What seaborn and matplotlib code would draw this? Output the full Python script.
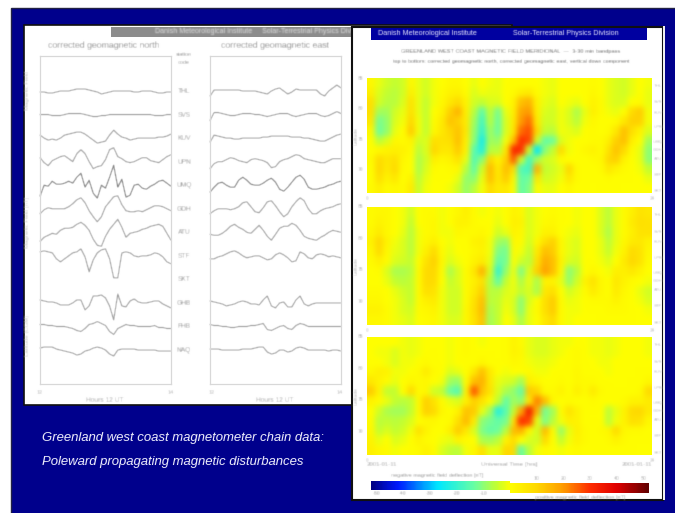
import numpy as np
import pandas as pd
import matplotlib
matplotlib.use("Agg")
import matplotlib.pyplot as plt
from matplotlib.colors import LinearSegmentedColormap
from matplotlib.patches import Rectangle
import seaborn as sns

sns.set_theme(style="white")
plt.rcParams['font.family'] = ['Liberation Sans', 'DejaVu Sans']

W, H = 675, 513
SLIDE_BLUE = "#00008c"

STATIONS = ["THL", "SVS", "KUV", "UPN", "UMQ", "GDH", "ATU", "STF", "SKT", "GHB", "FHB", "NAQ"]

# deflections of each station trace, north component
north = {
 "THL": [-1,-1,-2,-2,-1,0,0,0,1,2,2,2,1,0,-1,-3,-2,-1,0,0,0,0,0,-1,-1,0,0,0,-1,-2,-2,-1,-1],
 "SVS": [0,0,0,-1,-1,-1,0,1,1,1,1,0,-1,-2,-2,-1,-1,0,0,0,0,0,0,0,0,0,0,0,-1,-1,-1,0,0],
 "KUV": [3,0,-2,-1,-2,0,3,4,5,6,6,4,1,-2,-5,-4,-3,3,8,4,1,0,-2,-1,0,0,0,0,0,1,1,2,4],
 "UPN": [4,-1,-4,1,3,5,6,3,0,8,12,8,0,-7,-5,-4,2,12,14,5,3,0,-1,0,2,4,4,1,0,-1,2,5,7],
 "UMQ": [-11,0,-1,4,1,1,2,4,2,8,12,-2,5,-8,-13,0,-3,8,20,-2,6,-12,-10,0,1,-3,-4,-1,1,4,5,2,-1],
 "GDH": [-5,-1,1,0,0,0,0,2,5,9,11,6,-2,-8,-13,-8,2,7,12,13,4,-2,-3,-3,-2,-3,-1,1,3,3,2,0,-2],
 "ATU": [-9,-5,-3,-1,-2,2,4,4,5,8,10,7,2,-7,-13,-14,-4,3,8,13,5,-5,-1,0,1,3,4,6,7,8,6,-1,-8],
 "STF": [4,5,4,3,-3,-6,-3,0,3,4,7,-1,-16,-4,3,6,7,-3,-22,-22,3,4,3,0,-1,0,0,1,3,2,-1,-6,-8],
 "GHB": [3,2,1,1,0,-2,-2,-2,0,3,3,-7,-3,7,7,8,5,-3,-17,9,-3,-4,2,4,1,0,0,1,2,2,-1,-3,-5],
 "FHB": [2,2,1,1,0,0,0,-1,-2,-4,-5,-2,2,3,5,3,1,-5,-8,-2,0,2,1,1,0,0,0,0,1,-1,-1,-2,-2],
 "NAQ": [2,3,3,3,1,0,-1,-2,-3,-5,-4,-1,0,2,3,2,0,-4,-6,0,1,1,1,1,0,0,0,0,0,-1,-1,-1,-1],
}
# deflections of each station trace, east component
east = {
 "THL": [-5,1,1,1,1,1,1,1,0,0,0,0,-1,-2,-3,0,2,3,0,-3,-1,2,1,1,1,1,1,-3,-5,0,3,6,3],
 "SVS": [-6,2,2,1,0,-1,-1,0,1,1,1,0,0,-1,-2,-1,0,1,1,1,-1,-2,-1,0,1,1,1,-1,-2,-1,1,3,1],
 "KUV": [-4,3,2,1,0,0,-1,-1,0,0,0,0,0,1,1,2,2,2,2,2,1,1,1,0,0,-1,-2,-3,-3,-1,1,3,4],
 "UPN": [-7,-2,0,0,2,4,3,1,0,-1,2,3,2,1,-1,-6,-5,0,2,3,5,7,6,3,2,1,0,-1,-1,1,3,3,3],
 "UMQ": [-7,-2,2,3,0,-2,-2,5,8,5,1,0,0,2,5,7,3,-4,-6,-2,3,8,10,6,-2,-4,-4,-3,-2,0,1,3,4],
 "GDH": [-5,-2,0,0,0,-1,0,2,6,7,2,-3,-4,1,7,8,3,-3,-8,-5,2,7,11,8,0,-5,-5,-2,0,1,2,4,5],
 "ATU": [-2,-3,-3,-1,2,6,8,5,3,0,-1,3,7,2,-4,-8,-2,4,6,6,9,7,2,-4,-6,-7,-8,-5,-3,0,2,1,0],
 "STF": [-3,-3,-1,0,2,4,5,3,0,-2,-1,0,0,-2,-4,-3,1,3,1,-2,-6,-5,4,2,-2,-3,1,2,1,-1,0,-1,-2],
 "GHB": [2,1,0,-1,-3,-2,-1,1,2,1,-1,-1,-2,3,7,-3,-5,0,1,-4,-4,3,7,-1,-3,-1,0,0,0,0,0,0,0],
 "FHB": [2,1,1,0,0,-1,-1,0,0,0,1,1,2,3,-3,-4,-2,0,1,-2,-3,1,3,2,0,0,0,0,0,0,0,0,0],
 "NAQ": [1,1,1,0,0,0,0,0,1,1,1,2,3,3,-2,-4,-3,0,0,-2,-1,2,3,2,0,0,0,0,0,-1,0,0,-1],
}

# latitude/time field, geomagnetic north
field_north = [
 [2,-2,-4,-5,-4,2,-2,-4,-1,0,2,2,0,-2,0,-1,-2,0,0,0,0,0,-1,-2,0,0,0,0,1,0,-2,-3,-4,-2,0,-1],
 [4,-3,-5,-6,-4,4,-2,-4,-1,1,3,4,1,-3,-1,-2,-2,0,1,4,5,1,-1,-2,0,0,0,0,2,0,-2,-3,-4,-2,0,-2],
 [8,-4,-6,-6,-3,7,-2,-5,-1,2,6,9,3,-4,-5,-3,-3,0,3,14,16,3,-2,-3,0,-1,-2,0,3,1,-2,-3,-3,0,1,-2],
 [8,-8,-8,-4,-2,8,-2,-5,0,3,11,16,4,-6,-15,-5,-12,-2,4,18,20,4,-3,-4,-1,-3,-7,-2,4,1,-1,-2,0,9,12,-1],
 [6,-12,-9,-3,-1,10,-1,-5,1,5,13,11,5,-8,-18,-6,-13,-3,5,20,24,5,-4,-4,-1,-3,-6,-1,2,0,0,1,6,11,11,-1],
 [2,-13,-9,-2,0,12,-1,-5,2,6,10,13,6,-9,-20,-8,-13,-3,6,24,27,9,-5,-6,-1,-2,-3,0,1,0,1,6,14,8,3,-3],
 [0,-6,-3,2,1,3,-4,-3,8,7,8,14,4,-10,-24,-8,-9,-1,14,30,28,-4,-14,-13,-3,-1,0,0,1,1,4,11,14,4,0,-8],
 [0,2,3,4,3,1,-6,-3,10,6,6,12,3,-15,-22,-6,-6,6,32,30,-4,-27,-10,-5,9,-1,0,2,3,1,7,13,9,1,-2,-10],
 [1,9,6,8,2,0,-7,-4,4,2,3,7,-2,-16,-10,10,3,11,26,-4,-18,-8,-4,-3,1,0,0,0,1,2,10,11,3,0,-2,-10],
 [0,10,5,9,1,0,-7,-3,1,0,1,2,-6,-14,-4,15,5,14,8,-16,-18,16,-5,-4,-2,10,1,0,0,1,6,3,1,0,-1,-5],
 [0,8,3,6,0,3,-6,-2,0,0,0,-2,-9,-10,-2,14,6,12,2,-14,-13,6,-4,-3,-1,6,1,0,0,0,1,0,0,0,0,-2],
 [1,4,1,2,1,5,-5,-1,0,0,-1,-4,-9,-6,-1,9,5,6,1,-14,-11,1,-2,-2,0,2,0,0,0,0,0,0,0,0,0,0],
]
# latitude/time field, geomagnetic east
field_east = [
 [1,2,2,0,-1,-4,0,1,1,-1,0,2,4,1,-1,0,-1,0,3,2,-3,-1,0,1,0,0,-1,0,0,-3,-6,-2,1,4,7,6],
 [1,3,2,0,-1,-5,0,1,2,-1,0,3,3,1,0,0,-2,0,4,3,-3,-1,1,2,0,0,-1,0,0,-3,-6,-2,1,5,8,7],
 [2,5,2,0,-2,-6,-1,1,2,-1,-1,2,1,1,2,0,-4,-2,3,2,-3,-1,3,3,0,-1,-2,0,0,-3,-7,-2,1,4,7,7],
 [3,10,3,-1,-3,-6,-1,2,4,0,-1,0,0,3,4,-1,-8,-9,2,1,-4,2,8,11,2,-2,-3,0,0,-2,-6,-2,2,5,6,3],
 [2,9,2,-2,-3,-6,-1,4,9,1,-2,0,0,2,3,-1,-11,-12,1,-1,-5,5,14,12,2,-2,-3,0,0,-2,-5,-1,3,9,7,2],
 [1,4,1,-3,-4,-5,0,7,11,2,-3,-1,0,3,5,-2,-14,-12,0,-4,-6,8,17,14,3,-3,-4,0,0,-1,-3,0,5,10,7,1],
 [0,1,-3,-7,-7,-6,1,9,10,1,-7,-3,1,6,16,-3,-20,-9,-1,-11,-3,11,19,14,2,-10,-6,0,2,0,-1,4,4,6,3,0],
 [0,0,-2,-5,-6,-5,1,9,9,0,-5,-3,1,4,8,-6,-14,-5,-1,-7,-2,-7,3,3,-2,-9,-4,3,7,2,0,6,3,1,0,-1],
 [1,1,0,-2,-4,-5,1,8,7,-1,-4,-4,1,5,11,-6,-6,-3,-2,-5,-3,-7,6,8,0,-4,-2,1,5,2,0,5,2,0,-2,-4],
 [2,2,0,-1,-3,-5,1,4,5,-1,-4,-4,1,7,14,-6,-5,-2,-3,-10,-3,0,8,12,1,-2,-1,0,1,1,1,3,1,0,-1,-3],
 [3,3,1,-1,-3,-4,1,2,3,-1,-4,-4,2,8,15,-7,-5,-1,-3,-10,-2,1,8,12,1,-1,-1,0,0,0,1,1,1,0,0,-1],
 [2,2,1,-1,-2,-3,0,1,2,-1,-3,-3,2,7,13,-8,-5,0,-2,-7,-2,0,6,9,1,-1,0,0,0,0,0,0,0,0,0,0],
]
# latitude/time field, vertical down
field_down = [
 [0,0,0,0,-1,-2,-1,0,0,0,-1,0,1,0,-1,0,0,0,3,1,-2,-3,-3,-2,-1,-1,0,0,-1,-1,-2,-1,0,0,0,-1],
 [0,-1,-1,-3,-1,-2,-1,0,0,0,-1,0,1,0,0,0,0,0,3,2,-2,-3,-3,-2,-1,0,1,0,-1,-1,-2,-1,0,0,0,-1],
 [0,0,-1,-3,-1,-1,0,1,0,0,-1,0,0,0,2,0,0,0,2,1,-1,-2,-2,-1,0,0,1,0,0,-1,-1,0,0,0,0,0],
 [2,4,3,-1,-1,0,1,5,1,0,-3,-2,0,6,14,5,0,-1,0,0,1,-1,-1,0,0,0,2,0,0,0,-1,0,0,0,0,0],
 [6,3,1,-2,0,2,1,2,0,-1,-8,-9,1,14,16,6,-2,-3,-4,-8,4,2,0,0,1,0,2,1,1,0,0,0,0,0,0,2],
 [12,3,-5,-5,0,9,1,2,-4,-5,-13,-16,3,26,13,7,-3,-7,-9,-14,12,10,1,1,3,0,4,1,5,1,0,0,0,0,1,9],
 [3,1,-2,-5,-6,-5,1,11,7,1,-2,-3,4,11,7,1,-5,-14,-8,-10,6,22,14,2,0,1,0,0,1,0,0,0,1,3,3,5],
 [0,-4,-7,-8,-8,-5,1,11,9,2,0,3,13,12,-2,-8,-22,-15,-5,18,34,16,-12,-8,1,7,3,0,0,0,-6,-2,3,9,10,5],
 [1,-6,-5,-6,-5,-3,0,2,2,0,1,8,15,5,-10,-12,-14,-12,6,30,28,-2,-11,-6,-1,4,3,0,0,0,-6,-1,3,8,7,2],
 [2,-5,-3,-5,-4,-1,8,3,0,0,4,12,6,-3,-11,-14,-13,-6,15,16,2,-4,15,1,-9,-2,4,1,0,1,2,9,2,1,1,0],
 [3,-2,0,-3,-2,0,3,1,0,-1,-2,3,1,0,-7,-8,-6,3,9,0,-3,-4,9,0,-5,-1,3,1,0,0,1,3,1,0,0,0],
 [4,2,1,-1,0,0,1,3,1,-3,-5,-6,-1,2,8,-2,-2,10,9,-14,-6,-1,1,0,-1,0,1,0,0,0,0,0,0,0,0,0],
]
neg_ticks = [-50, -40, -30, -20, -10]
pos_ticks = [10, 20, 30, 40, 50]
cmap_stops = [(-52, "#000080"), (-42, "#0018ff"), (-27, "#00e8ff"), (-13, "#6cffa0"),
              (-5, "#c4ff30"), (0, "#ffff00"), (10, "#ffd800"), (20, "#ff9c00"),
              (30, "#ff2c00"), (40, "#e00000"), (52, "#600000")]
VMIN, VMAX = -52, 52
cmap = LinearSegmentedColormap.from_list(
    "field", [((v - VMIN) / (VMAX - VMIN), c) for v, c in cmap_stops], N=256)


# ---------- soft rendering filters (the reference is a blurred screenshot) ----------
def kernel(sigma):
    r = max(1, int(3 * sigma + 0.5))
    k = np.exp(-0.5 * (np.arange(-r, r + 1) / sigma) ** 2)
    return k / k.sum(), r


def conv(a, k, axis):
    r = len(k) // 2
    return sum(w * np.roll(a, i - r, axis=axis) for i, w in enumerate(k))


def smooth_mesh(sigma):
    def f(img, dpi):
        k, r = kernel(sigma)
        p = np.pad(img[..., :3], ((r, r), (r, r), (0, 0)), mode="edge")
        p = conv(conv(p, k, 0), k, 1)[r:-r, r:-r]
        out = img.copy()
        out[..., :3] = np.clip(p, 0, 1)
        return out, 0, 0
    return f


def soft(sigma):
    def f(img, dpi):
        k, r = kernel(sigma)
        p = np.ones((img.shape[0] + 2 * r, img.shape[1] + 2 * r, 4))
        p[..., 3] = 0
        p[r:-r, r:-r] = img
        p = conv(conv(p, k, 0), k, 1)
        return np.clip(p, 0, 1), -r, -r
    return f


fig = plt.figure(figsize=(W / 100, H / 100), dpi=100, facecolor="white")


def axes_px(x0, y0, x1, y1, z):
    return fig.add_axes([x0 / W, 1 - y1 / H, (x1 - x0) / W, (y1 - y0) / H], zorder=z)


def overlay(z):
    a = axes_px(0, 0, W, H, z)
    a.set_xlim(0, W)
    a.set_ylim(H, 0)
    a.axis("off")
    a.patch.set_alpha(0)
    return a


def label(a, x, y, s, size=4.6, color="#8a8a8a", ha="center", va="center", sigma=0.7, **kw):
    t = a.text(x, y, s, fontsize=size, color=color, ha=ha, va=va, **kw)
    t.set_agg_filter(soft(sigma))
    return t


# ---------- slide background ----------
bg = overlay(0)
bg.add_patch(Rectangle((11, 8), W, H, fc=SLIDE_BLUE, ec="#222244", lw=1))
bg.add_patch(Rectangle((24, 25), 488, 380, fc="white", ec="#101010", lw=1.2))
bg.add_patch(Rectangle((111, 26.5), 401, 10, fc="#8c8c8c", ec="none"))
label(bg, 155, 31.5, "Danish Meteorological Institute     Solar-Terrestrial Physics Division",
      size=5.0, color="#e0e0e0", ha="left")
label(bg, 104, 45, "corrected geomagnetic north", size=6.3, color="#8a8a8a")
label(bg, 275, 45, "corrected geomagnetic east", size=6.3, color="#8a8a8a")
label(bg, 184, 54, "station", size=4)
label(bg, 184, 62, "code", size=4)
label(bg, 28, 90, "Magnetic Field", size=4.3, rotation=90, color="#b8b8b8")
label(bg, 28, 222, "Magnetic Field [nT]", size=4.3, rotation=90, color="#b8b8b8")
label(bg, 28, 335, "Latitude (CGM)", size=4.3, rotation=90, color="#b8b8b8")
for i, s in enumerate(STATIONS):
    label(bg, 184, 91.5 + 23.55 * i, s, size=4.8, color="#909090")
for x, s in [(40, "12"), (171, "14"), (212, "12"), (340, "14")]:
    label(bg, x, 393, s, size=4, color="#a8a8a8")
label(bg, 105, 401, "Hours 12 UT", size=4.8, color="#a0a0a0")
label(bg, 275, 401, "Hours 12 UT", size=4.8, color="#a0a0a0")
for y, s in [(438, "Greenland west coast magnetometer chain data:"),
             (462, "Poleward propagating magnetic disturbances")]:
    t = bg.text(42, y, s, fontsize=9.45, color="#f4f4ff", style="italic", ha="left", va="center",
                family=["Liberation Sans", "DejaVu Sans"])
    t.set_agg_filter(soft(0.35))

# ---------- station traces ----------
for data, (x0, x1) in [(north, (40, 171)), (east, (210, 341))]:
    ax = axes_px(x0, 56, x1, 384, 1)
    ax.patch.set_alpha(0)
    for name, vals in data.items():
        row = STATIONS.index(name)
        vals = np.asarray(vals, dtype=float)
        df = pd.DataFrame({"t": np.linspace(0, 1, len(vals)), "v": vals - 23.55 * row})
        sns.lineplot(data=df, x="t", y="v", ax=ax, color="#787878" if name == "UMQ" else "#969696",
                     lw=0.8, errorbar=None, sort=False, legend=False)
    for ln in ax.lines:
        ln.set_agg_filter(soft(0.6))
        ln.set_clip_on(False)
    ax.set_xlim(0, 1)
    ax.set_ylim(-293, 35)
    ax.set_xticks([])
    ax.set_yticks([])
    ax.set_xlabel("")
    ax.set_ylabel("")
    for sp in ax.spines.values():
        sp.set_color("#d8d8d8")
        sp.set_linewidth(0.9)

# ---------- second sheet ----------
sheet = overlay(3)
sheet.add_patch(Rectangle((351.5, 26.5), 311, 473, fc="white", ec="#101010", lw=1.5))
sheet.add_patch(Rectangle((663, 26), 1.6, 474, fc="#f0f0f0", ec="none"))
sheet.add_patch(Rectangle((371, 27.5), 276, 12.5, fc="#0000a0", ec="none"))
label(sheet, 378, 33.5, "Danish Meteorological Institute", size=5.2, color="#e8e8ff", ha="left", sigma=0.55)
label(sheet, 513, 33.5, "Solar-Terrestrial Physics Division", size=5.2, color="#e8e8ff", ha="left", sigma=0.55)
label(sheet, 511, 51, "GREENLAND WEST COAST MAGNETIC FIELD MERIDIONAL  \u2014  3-30 min bandpass",
      size=4.1, color="#606060")
label(sheet, 511, 62, "top to bottom: corrected geomagnetic north, corrected geomagnetic east, vertical down component",
      size=3.9, color="#606060")

panels = [(field_north, 78, 193), (field_east, 207, 325), (field_down, 337, 455)]
lat_labels = ["85", "80", "75", "70"]
right_frac = [0.07, 0.21, 0.30, 0.43, 0.56, 0.63, 0.70, 0.84, 0.98]
for vals, y0, y1 in panels:
    ax = axes_px(367, y0, 652, y1, 4)
    arr = np.asarray(vals, dtype=float)
    sns.heatmap(pd.DataFrame(arr), ax=ax, cmap=cmap, vmin=VMIN, vmax=VMAX, cbar=False,
                xticklabels=False, yticklabels=False)
    ax.collections[0].set_agg_filter(smooth_mesh(2.9))
    ax.set_xlabel("")
    ax.set_ylabel("")
    for sp in ax.spines.values():
        sp.set_visible(False)
    for j, s in enumerate(lat_labels):
        yy = y0 + j * (y1 - y0) * 0.266
        label(sheet, 361, yy, s, size=3.6, color="#a0a0a0")
    label(sheet, 356, (y0 + y1) / 2, "Latitude", size=3.6, color="#b0b0b0", rotation=90)
    for f, s in zip(right_frac, STATIONS):
        label(sheet, 658, y0 + f * (y1 - y0), s, size=3.2, color="#b0b0b0")
    label(sheet, 367, y1 + 5, "0", size=3.4, color="#b0b0b0")
    label(sheet, 652, y1 + 5, "24", size=3.4, color="#b0b0b0")

label(sheet, 367, 464.5, "2001-01-11", size=4.3, color="#999999", ha="left")
label(sheet, 509, 464.5, "Universal Time [hrs]", size=4.6, color="#999999")
label(sheet, 652, 464.5, "2001-01-11", size=4.3, color="#999999", ha="right")
label(sheet, 437, 476, "negative magnetic field deflection [nT]", size=4.0, color="#909090")
label(sheet, 580, 497, "positive magnetic field deflection [nT]", size=4.0, color="#909090")

# ---------- colour bar ----------
neg_axis = np.arange(VMIN, 0)
pos_axis = np.arange(0, VMAX)
cb_neg = axes_px(371, 481, 510, 489.5, 5)
sns.heatmap(pd.DataFrame([neg_axis + 0.5]), ax=cb_neg, cmap=cmap, vmin=VMIN, vmax=VMAX, cbar=False,
            xticklabels=False, yticklabels=False)
cb_pos = axes_px(510, 483, 649, 492.5, 5)
sns.heatmap(pd.DataFrame([pos_axis + 0.5]), ax=cb_pos, cmap=cmap, vmin=VMIN, vmax=VMAX, cbar=False,
            xticklabels=False, yticklabels=False)
for a in (cb_neg, cb_pos):
    a.collections[0].set_agg_filter(smooth_mesh(1.0))
    a.set_xlabel("")
    a.set_ylabel("")
for v in neg_ticks:
    label(sheet, 510 + v * 139 / 52, 493.5, str(v), size=3.8, color="#909090")
for v in pos_ticks:
    label(sheet, 510 + v * 139 / 52, 479, str(v), size=3.8, color="#909090")

fig.savefig("out.png", dpi=100, facecolor="white")
